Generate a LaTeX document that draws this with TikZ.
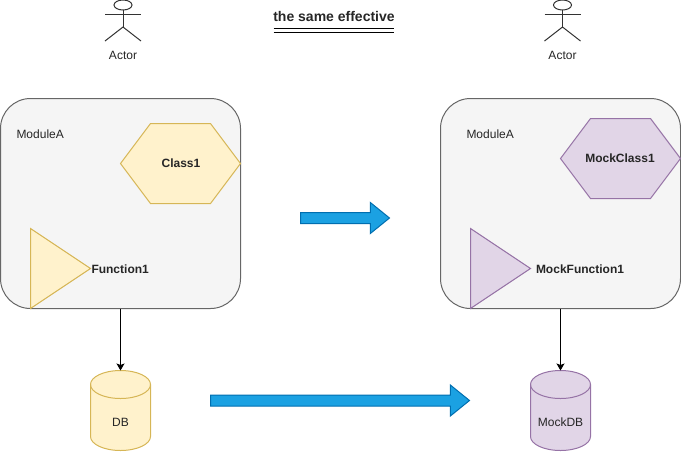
\documentclass[tikz,border=0pt]{standalone}
\usepackage{fontspec}
\setmainfont{Liberation Sans}
\usetikzlibrary{arrows.meta,shapes.arrows}
\definecolor{yellowFill}{HTML}{FFF2CC}
\definecolor{yellowLine}{HTML}{D6B656}
\definecolor{purpleFill}{HTML}{E1D5E7}
\definecolor{purpleLine}{HTML}{9673A6}
\definecolor{greyFill}{HTML}{F5F5F5}
\definecolor{greyLine}{HTML}{666666}
\definecolor{blueFill}{HTML}{1BA1E2}
\definecolor{blueLine}{HTML}{006EAF}
\tikzset{
    module/.style={draw=greyLine, fill=greyFill, rounded corners=30pt, minimum width=240pt, minimum height=210pt, outer sep=0pt},
    yellowShape/.style={draw=yellowLine, fill=yellowFill},
    purpleShape/.style={draw=purpleLine, fill=purpleFill},
    dbase/.style={minimum width=60pt, minimum height=80pt, inner sep=0pt, outer sep=0pt},
    flow/.style={single arrow, draw=blueLine, fill=blueFill, inner xsep=0pt, inner ysep=5pt, outer sep=0pt, anchor=tail,
        single arrow head extend=10pt, single arrow tip angle=78, single arrow head indent=0pt},
    txt/.style={text=black!85, font=\fontsize{12}{14}\selectfont},
    bold/.style={txt, font=\fontsize{12}{14}\selectfont\bfseries}
}
\begin{document}
\begin{tikzpicture}[x=1pt, y=-1pt, line width=1pt, >={Stealth[length=7pt,width=8pt,inset=1.5pt]}]
    \useasboundingbox (0,0) rectangle (681,451);

    % ===== actors =====
    \foreach \xA/\nameA in {123/actorL, 562.5/actorR} {
        \draw[black!80] (\xA, 5) ellipse [x radius=9, y radius=5];
        \draw[black!80] (\xA, 10) -- (\xA, 27);
        \draw[black!80] (\xA-18, 14) -- (\xA+18, 14);
        \draw[black!80] (\xA-18, 41) -- (\xA, 27) -- (\xA+18, 41);
        \node[txt] (\nameA) at (\xA, 55) {Actor};
    }

    % ===== title =====
    \node[txt, font=\fontsize{14}{16}\selectfont\bfseries] (title) at (334, 16) {the same effective};
    \draw (273.5, 28.5) -- (393.5, 28.5);
    \draw (273.5, 32.5) -- (393.5, 32.5);

    % ===== original =====
    \node[module] (modA) at (120.5, 203.5) {};
    \node[txt, anchor=west, inner sep=0pt] (nameA) at (16, 134) {ModuleA};
    \draw[yellowShape] (120.5, 163.5) -- (150.5, 123.5) -- (210.5, 123.5) -- (240.5, 163.5) -- (210.5, 203.5) -- (150.5, 203.5) -- cycle;
    \node[bold] (classA) at (181, 163.5) {Class1};
    \draw[yellowShape] (30.5, 228.5) -- (90.5, 268.5) -- (30.5, 308.5) -- cycle;
    \node[bold, anchor=west, inner sep=0pt] (funcA) at (91, 269) {Function1};
    \def\xD{120.5}
    \draw[yellowShape] (\xD-30, 384.5) arc [start angle=180, end angle=360, x radius=30, y radius=14]
        -- (\xD+30, 436.5) arc [start angle=0, end angle=180, x radius=30, y radius=14] -- cycle;
    \draw[yellowLine] (\xD-30, 384.5) arc [start angle=180, end angle=0, x radius=30, y radius=14];
    \node[dbase] (dbA) at (\xD, 410.5) {};
    \node[txt] (dbTextA) at (\xD, 422.5) {DB};
    \draw[->] (modA) -- (dbA);

    % ===== mocked =====
    \node[module] (modB) at (560.5, 203.5) {};
    \node[txt, anchor=west, inner sep=0pt] (nameB) at (466, 134) {ModuleA};
    \draw[purpleShape] (560.5, 158.5) -- (590.5, 118.5) -- (650.5, 118.5) -- (680.5, 158.5) -- (650.5, 198.5) -- (590.5, 198.5) -- cycle;
    \node[bold] (classB) at (620, 158.5) {MockClass1};
    \draw[purpleShape] (470.5, 228.5) -- (530.5, 268.5) -- (470.5, 308.5) -- cycle;
    \node[bold, anchor=west, inner sep=0pt] (funcB) at (535.5, 269) {MockFunction1};
    \def\xD{560.5}
    \draw[purpleShape] (\xD-30, 384.5) arc [start angle=180, end angle=360, x radius=30, y radius=14]
        -- (\xD+30, 436.5) arc [start angle=0, end angle=180, x radius=30, y radius=14] -- cycle;
    \draw[purpleLine] (\xD-30, 384.5) arc [start angle=180, end angle=0, x radius=30, y radius=14];
    \node[dbase] (dbB) at (\xD, 410.5) {};
    \node[txt] (dbTextB) at (\xD, 422.5) {MockDB};
    \draw[->] (modB) -- (dbB);

    % ===== big arrows =====
    \node[flow, minimum height=89pt] (flowTop) at (300.5, 218) {};
    \node[flow, minimum height=259pt] (flowBottom) at (210.5, 400.5) {};
\end{tikzpicture}
\end{document}
